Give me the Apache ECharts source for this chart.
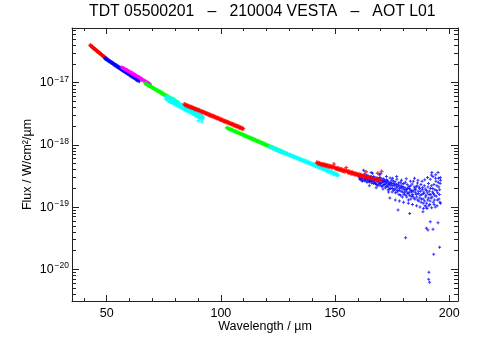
<!DOCTYPE html>
<html>
<head>
<meta charset="utf-8">
<script src="https://cdn.jsdelivr.net/npm/echarts@6/dist/echarts.min.js"></script>
<style>html,body{margin:0;padding:0;background:#fff}#c{width:481px;height:354px}</style>
</head>
<body>
<div id="c"></div>
<script>
// ---- chart text ----
const TITLE = 'TDT 05500201   \u2013   210004 VESTA   \u2013   AOT L01';
const X_NAME = 'Wavelength / \u00b5m';
const Y_NAME = 'Flux / W/cm\u00b2/\u00b5m';

// ---- axis ticks ----
const xMajorTicks = [50, 100, 150, 200];
const xMinorTicks = [40, 60, 70, 80, 90, 110, 120, 130, 140, 160, 170, 180, 190];
const yDecadeExponents = [-20, -19, -18, -17];
const yMinorMultipliers = [2, 3, 4, 5, 6, 7, 8, 9];
const X_MIN = 34.8, X_MAX = 203.85;
const Y_MIN_EXP = -20.51, Y_MAX_EXP = -16.12;

// ---- data: [wavelength (um), flux (W/cm2/um)] ----
const red1 = [[42.8,4.03e-17],[43.0,3.93e-17],[43.2,3.91e-17],[43.4,3.80e-17],[43.6,3.81e-17],[43.8,3.70e-17],[44.0,3.69e-17],[44.2,3.60e-17],[44.4,3.59e-17],[44.6,3.50e-17],[44.8,3.50e-17],[45.0,3.40e-17],[45.2,3.39e-17],[45.4,3.31e-17],[45.6,3.30e-17],[45.8,3.21e-17],[46.0,3.20e-17],[46.2,3.12e-17],[46.4,3.11e-17],[46.6,3.04e-17],[46.8,3.03e-17],[47.0,2.95e-17],[47.2,2.94e-17],[47.4,2.88e-17],[47.6,2.86e-17],[47.8,2.80e-17],[48.0,2.78e-17],[48.2,2.72e-17],[48.4,2.70e-17],[48.6,2.64e-17],[48.8,2.63e-17],[49.0,2.57e-17],[49.2,2.56e-17],[49.4,2.50e-17],[49.6,2.48e-17],[49.8,2.43e-17],[50.0,2.41e-17]];
const blue1 = [[49.3,2.48e-17],[49.5,2.40e-17],[49.7,2.45e-17],[50.0,2.39e-17],[50.2,2.31e-17],[50.5,2.34e-17],[50.7,2.26e-17],[51.0,2.27e-17],[51.2,2.19e-17],[51.5,2.22e-17],[51.7,2.13e-17],[52.0,2.15e-17],[52.2,2.07e-17],[52.5,2.09e-17],[52.7,2.01e-17],[53.0,2.03e-17],[53.2,1.95e-17],[53.5,1.98e-17],[53.7,1.89e-17],[54.0,1.93e-17],[54.2,1.84e-17],[54.5,1.87e-17],[54.7,1.79e-17],[55.0,1.82e-17],[55.2,1.74e-17],[55.5,1.77e-17],[55.7,1.69e-17],[56.0,1.72e-17],[56.2,1.64e-17],[56.5,1.68e-17],[56.7,1.60e-17],[57.0,1.63e-17],[57.2,1.55e-17],[57.5,1.59e-17],[57.7,1.51e-17],[58.0,1.54e-17],[58.2,1.47e-17],[58.5,1.50e-17],[58.7,1.43e-17],[59.0,1.46e-17],[59.2,1.39e-17],[59.5,1.42e-17],[59.7,1.35e-17],[60.0,1.38e-17],[60.2,1.31e-17],[60.5,1.35e-17],[60.7,1.28e-17],[61.0,1.31e-17],[61.2,1.24e-17],[61.5,1.27e-17],[61.7,1.21e-17],[62.0,1.24e-17],[62.2,1.18e-17],[62.5,1.21e-17],[62.7,1.14e-17],[63.0,1.17e-17],[63.2,1.11e-17],[63.5,1.14e-17],[63.7,1.08e-17],[64.0,1.11e-17],[64.3,1.06e-17]];
const magenta1 = [[56.6,1.78e-17],[56.9,1.72e-17],[57.2,1.72e-17],[57.5,1.67e-17],[57.8,1.68e-17],[58.1,1.62e-17],[58.4,1.63e-17],[58.7,1.58e-17],[59.0,1.59e-17],[59.3,1.53e-17],[59.6,1.54e-17],[59.9,1.48e-17],[60.2,1.50e-17],[60.5,1.44e-17],[60.8,1.46e-17],[61.1,1.40e-17],[61.4,1.42e-17],[61.7,1.36e-17],[62.0,1.37e-17],[62.3,1.32e-17],[62.6,1.33e-17],[62.9,1.28e-17],[63.2,1.29e-17],[63.5,1.24e-17],[63.8,1.25e-17],[64.1,1.20e-17],[64.4,1.22e-17],[64.7,1.17e-17],[65.0,1.18e-17],[65.3,1.13e-17],[65.6,1.14e-17],[65.9,1.10e-17],[66.2,1.10e-17],[66.5,1.06e-17],[66.8,1.07e-17],[67.1,1.03e-17],[67.4,1.04e-17],[67.7,1.00e-17],[68.0,1.00e-17],[68.3,9.70e-18],[68.6,9.75e-18],[68.9,9.45e-18]];
const green1 = [[66.8,9.85e-18],[67.1,9.55e-18],[67.4,9.60e-18],[67.7,9.25e-18],[68.0,9.30e-18],[68.3,8.95e-18],[68.6,9.05e-18],[68.9,8.70e-18],[69.2,8.80e-18],[69.5,8.45e-18],[69.8,8.55e-18],[70.1,8.20e-18],[70.4,8.30e-18],[70.7,7.95e-18],[71.0,8.05e-18],[71.3,7.70e-18],[71.6,7.85e-18],[71.9,7.45e-18],[72.2,7.60e-18],[72.5,7.25e-18],[72.8,7.40e-18],[73.1,7.05e-18],[73.4,7.20e-18],[73.7,6.85e-18],[74.0,7.00e-18],[74.3,6.60e-18],[74.6,6.75e-18],[74.9,6.40e-18],[75.2,6.55e-18],[75.5,6.20e-18],[75.8,6.35e-18],[76.1,6.05e-18],[76.4,6.15e-18],[76.7,5.85e-18],[77.0,6.00e-18],[77.3,5.70e-18],[77.6,5.80e-18],[77.9,5.50e-18],[78.2,5.65e-18],[78.5,5.35e-18],[78.8,5.50e-18],[79.1,5.20e-18],[79.4,5.30e-18],[79.7,5.05e-18],[80.0,5.15e-18],[80.3,4.90e-18],[80.6,5.00e-18],[80.9,4.75e-18],[81.2,4.85e-18]];
const cyan1 = [[75.8,6.0e-18],[76.0,5.4e-18],[76.1,5.65e-18],[76.3,5.9e-18],[76.5,5.3e-18],[76.8,5.85e-18],[77.0,5.1e-18],[77.1,5.4e-18],[77.3,5.7e-18],[77.5,5.0e-18],[77.8,5.5e-18],[78.0,4.85e-18],[78.1,5.15e-18],[78.3,5.45e-18],[78.5,4.8e-18],[78.8,5.3e-18],[79.0,4.65e-18],[79.1,4.95e-18],[79.3,5.2e-18],[79.5,4.6e-18],[79.6,5.5e-18],[79.8,5.05e-18],[80.0,4.45e-18],[80.1,4.7e-18],[80.3,4.95e-18],[80.5,4.4e-18],[80.8,4.8e-18],[81.0,4.25e-18],[81.1,4.5e-18],[81.3,4.75e-18],[81.5,4.2e-18],[81.8,4.6e-18],[82.0,4.05e-18],[82.1,4.3e-18],[82.3,4.5e-18],[82.5,4.0e-18],[82.8,4.4e-18],[83.0,3.9e-18],[83.1,4.1e-18],[83.3,4.3e-18],[83.5,3.8e-18],[83.8,4.2e-18],[84.0,3.7e-18],[84.1,3.9e-18],[84.3,4.1e-18],[84.5,3.65e-18],[84.8,4.0e-18],[85.0,3.55e-18],[85.1,3.75e-18],[85.3,3.95e-18],[85.5,3.5e-18],[85.8,3.85e-18],[86.0,3.4e-18],[86.1,3.6e-18],[86.3,3.75e-18],[86.5,3.35e-18],[86.8,3.65e-18],[87.0,3.25e-18],[87.1,3.45e-18],[87.3,3.6e-18],[87.5,3.2e-18],[87.8,3.5e-18],[88.0,3.1e-18],[88.1,3.3e-18],[88.3,3.45e-18],[88.5,3.05e-18],[88.8,3.35e-18],[89.0,2.95e-18],[89.1,3.15e-18],[89.3,3.25e-18],[89.5,2.9e-18],[89.8,3.2e-18],[90.0,2.85e-18],[90.1,3.0e-18],[90.2,2.45e-18],[90.3,3.1e-18],[90.5,2.75e-18],[90.8,3.05e-18],[91.0,2.7e-18],[91.1,2.85e-18],[91.3,2.95e-18],[91.5,2.65e-18],[91.6,2.35e-18],[91.8,2.9e-18],[92.0,2.6e-18],[92.1,2.72e-18],[92.3,2.8e-18]];
const red2 = [[84.0,4.55e-18],[84.3,4.35e-18],[84.6,4.45e-18],[84.9,4.25e-18],[85.2,4.36e-18],[85.5,4.18e-18],[85.8,4.28e-18],[86.1,4.08e-18],[86.4,4.20e-18],[86.7,4.00e-18],[87.0,4.10e-18],[87.3,3.92e-18],[87.6,4.03e-18],[87.9,3.85e-18],[88.2,3.94e-18],[88.5,3.76e-18],[88.8,3.86e-18],[89.1,3.68e-18],[89.4,3.78e-18],[89.7,3.60e-18],[90.0,3.70e-18],[90.3,3.53e-18],[90.6,3.63e-18],[90.9,3.46e-18],[91.2,3.55e-18],[91.5,3.39e-18],[91.8,3.48e-18],[92.1,3.32e-18],[92.4,3.41e-18],[92.7,3.25e-18],[93.0,3.34e-18],[93.3,3.18e-18],[93.6,3.27e-18],[93.9,3.11e-18],[94.2,3.20e-18],[94.5,3.04e-18],[94.8,3.13e-18],[95.1,2.98e-18],[95.4,3.06e-18],[95.7,2.92e-18],[96.0,3.00e-18],[96.3,2.86e-18],[96.6,2.94e-18],[96.9,2.80e-18],[97.2,2.88e-18],[97.5,2.74e-18],[97.8,2.82e-18],[98.1,2.68e-18],[98.4,2.76e-18],[98.7,2.63e-18],[99.0,2.70e-18],[99.3,2.57e-18],[99.6,2.65e-18],[99.9,2.52e-18],[100.2,2.59e-18],[100.5,2.47e-18],[100.8,2.53e-18],[101.1,2.41e-18],[101.4,2.48e-18],[101.7,2.36e-18],[102.0,2.43e-18],[102.3,2.31e-18],[102.6,2.38e-18],[102.9,2.27e-18],[103.2,2.33e-18],[103.5,2.22e-18],[103.8,2.28e-18],[104.1,2.17e-18],[104.4,2.23e-18],[104.7,2.13e-18],[105.0,2.18e-18],[105.3,2.08e-18],[105.6,2.14e-18],[105.9,2.04e-18],[106.2,2.10e-18],[106.5,2.00e-18],[106.8,2.05e-18],[107.1,1.95e-18],[107.4,2.01e-18],[107.7,1.91e-18],[108.0,1.97e-18],[108.3,1.87e-18],[108.6,1.93e-18],[108.9,1.83e-18],[109.2,1.88e-18],[109.5,1.79e-18],[109.8,1.84e-18]];
const green2 = [[102.6,1.90e-18],[102.9,1.85e-18],[103.2,1.86e-18],[103.5,1.80e-18],[103.8,1.82e-18],[104.1,1.77e-18],[104.4,1.79e-18],[104.7,1.73e-18],[105.0,1.75e-18],[105.3,1.69e-18],[105.6,1.71e-18],[105.9,1.65e-18],[106.2,1.67e-18],[106.5,1.62e-18],[106.8,1.64e-18],[107.1,1.58e-18],[107.4,1.60e-18],[107.7,1.55e-18],[108.0,1.57e-18],[108.3,1.51e-18],[108.6,1.53e-18],[108.9,1.48e-18],[109.2,1.50e-18],[109.5,1.45e-18],[109.8,1.47e-18],[110.1,1.42e-18],[110.4,1.44e-18],[110.7,1.38e-18],[111.0,1.40e-18],[111.3,1.35e-18],[111.6,1.37e-18],[111.9,1.32e-18],[112.2,1.34e-18],[112.5,1.29e-18],[112.8,1.31e-18],[113.1,1.26e-18],[113.4,1.29e-18],[113.7,1.23e-18],[114.0,1.26e-18],[114.3,1.21e-18],[114.6,1.23e-18],[114.9,1.18e-18],[115.2,1.21e-18],[115.5,1.16e-18],[115.8,1.18e-18],[116.1,1.13e-18],[116.4,1.15e-18],[116.7,1.11e-18],[117.0,1.13e-18],[117.3,1.08e-18],[117.6,1.10e-18],[117.9,1.06e-18],[118.2,1.08e-18],[118.5,1.03e-18],[118.8,1.06e-18],[119.1,1.01e-18],[119.4,1.04e-18],[119.7,9.90e-19],[120.0,1.01e-18],[120.3,9.65e-19],[120.6,9.85e-19],[120.9,9.45e-19],[121.2,9.65e-19],[121.5,9.25e-19],[121.8,9.45e-19],[122.1,9.05e-19],[122.4,9.25e-19],[122.7,8.85e-19],[123.0,9.05e-19],[123.3,8.65e-19],[123.6,8.85e-19],[123.9,8.45e-19],[124.2,8.65e-19],[124.5,8.25e-19],[124.8,8.45e-19],[125.1,8.05e-19],[125.4,8.30e-19],[125.7,7.90e-19],[126.0,8.10e-19],[126.3,7.70e-19],[126.6,7.90e-19],[126.9,7.55e-19],[127.2,7.75e-19],[127.8,7.45e-19],[128.4,7.30e-19],[129.0,7.15e-19]];
const cyan2 = [[121.4,9.45e-19],[121.7,9.10e-19],[122.0,9.25e-19],[122.3,8.90e-19],[122.6,9.05e-19],[122.9,8.70e-19],[123.2,8.90e-19],[123.5,8.50e-19],[123.8,8.70e-19],[124.1,8.35e-19],[124.4,8.55e-19],[124.7,8.15e-19],[125.0,8.35e-19],[125.3,8.00e-19],[125.6,8.20e-19],[125.9,7.80e-19],[126.2,8.00e-19],[126.5,7.65e-19],[126.8,7.85e-19],[127.1,7.50e-19],[127.4,7.70e-19],[127.7,7.35e-19],[128.0,7.55e-19],[128.3,7.20e-19],[128.6,7.40e-19],[128.9,7.05e-19],[129.2,7.25e-19],[129.5,6.90e-19],[129.8,7.10e-19],[130.1,6.75e-19],[130.4,6.95e-19],[130.7,6.60e-19],[131.0,6.80e-19],[131.3,6.50e-19],[131.6,6.65e-19],[131.9,6.35e-19],[132.2,6.50e-19],[132.5,6.20e-19],[132.8,6.40e-19],[133.1,6.10e-19],[133.4,6.25e-19],[133.7,5.95e-19],[134.0,6.10e-19],[134.3,5.85e-19],[134.6,6.00e-19],[134.9,5.70e-19],[135.2,5.85e-19],[135.5,5.60e-19],[135.8,5.75e-19],[136.1,5.45e-19],[136.4,5.65e-19],[136.7,5.35e-19],[137.0,5.55e-19],[137.3,5.25e-19],[137.6,5.45e-19],[137.9,5.15e-19],[138.2,5.35e-19],[138.5,5.05e-19],[138.8,5.20e-19],[139.1,4.95e-19],[139.4,5.10e-19],[139.7,4.85e-19],[140.0,5.00e-19],[140.3,4.75e-19],[140.6,4.90e-19],[140.9,4.65e-19],[141.2,4.80e-19],[141.5,4.55e-19],[141.8,4.70e-19],[142.1,4.45e-19],[142.4,4.60e-19],[142.7,4.35e-19],[143.0,4.50e-19],[143.3,4.28e-19],[143.6,4.40e-19],[143.9,4.18e-19],[144.2,4.30e-19],[144.5,4.08e-19],[144.8,4.22e-19],[145.1,3.98e-19],[145.4,4.12e-19],[145.7,3.90e-19],[146.0,4.03e-19],[146.3,3.82e-19],[146.6,3.95e-19],[146.9,3.73e-19],[147.2,3.87e-19],[147.5,3.65e-19],[147.8,3.79e-19],[148.1,3.58e-19],[148.4,3.71e-19],[148.7,3.50e-19],[149.0,3.63e-19],[149.3,3.42e-19],[149.6,3.55e-19],[149.9,3.35e-19],[150.2,3.48e-19],[150.5,3.28e-19],[150.8,3.40e-19],[151.1,3.22e-19],[151.4,3.30e-19]];
const blue2 = [[160.6,3.1e-19],[160.9,2.8e-19],[161.2,3.3e-19],[161.5,2.9e-19],[161.8,3.0e-19],[162.1,2.7e-19],[162.4,3.2e-19],[162.5,3.9e-19],[162.7,2.85e-19],[163.0,3.4e-19],[163.3,2.75e-19],[163.6,3.0e-19],[163.9,2.6e-19],[164.2,2.9e-19],[164.5,3.15e-19],[164.8,2.7e-19],[165.1,2.55e-19],[165.4,3.0e-19],[165.7,2.8e-19],[165.8,3.6e-19],[166.0,2.45e-19],[166.3,2.95e-19],[166.6,2.65e-19],[166.9,3.1e-19],[167.2,2.5e-19],[167.5,2.75e-19],[167.8,2.35e-19],[168.1,2.9e-19],[168.4,2.6e-19],[168.7,2.2e-19],[169.0,2.8e-19],[169.3,2.5e-19],[169.6,3.0e-19],[169.9,2.4e-19],[170.0,3.45e-19],[170.2,2.65e-19],[170.5,2.15e-19],[170.8,2.55e-19],[171.1,2.85e-19],[171.4,2.3e-19],[171.7,2.6e-19],[172.0,2.05e-19],[172.3,2.45e-19],[172.6,2.75e-19],[172.9,2.2e-19],[173.2,1.9e-19],[173.5,2.5e-19],[173.8,2.3e-19],[174.1,2.95e-19],[174.4,2.0e-19],[174.7,2.4e-19],[175.0,1.75e-19],[175.3,2.2e-19],[175.6,2.6e-19],[175.9,1.95e-19],[176.2,2.35e-19],[176.5,1.7e-19],[176.8,2.1e-19],[177.1,2.8e-19],[177.4,1.85e-19],[177.6,8.97e-20],[177.7,2.25e-19],[178.0,1.6e-19],[178.3,2.0e-19],[178.6,2.5e-19],[178.9,1.8e-19],[179.2,2.15e-19],[179.5,1.45e-19],[179.8,1.95e-19],[180.1,2.4e-19],[180.4,1.7e-19],[180.7,2.05e-19],[180.9,3.22e-20],[181.0,1.55e-19],[181.3,1.9e-19],[181.6,2.3e-19],[181.9,1.65e-19],[182.2,1.3e-19],[182.5,2.0e-19],[182.7,7.9e-20],[182.8,1.75e-19],[183.1,2.2e-19],[183.4,1.5e-19],[183.7,1.85e-19],[184.0,1.6e-19],[184.3,2.6e-19],[184.6,1.4e-19],[184.9,1.95e-19],[185.2,1.7e-19],[185.5,2.1e-19],[185.8,1.45e-19],[186.1,2.45e-19],[186.4,1.8e-19],[186.7,1.25e-19],[187.0,2.0e-19],[187.3,1.55e-19],[187.6,2.3e-19],[187.9,1.35e-19],[188.2,1.9e-19],[188.5,8.43e-20],[188.6,1.15e-19],[188.8,1.65e-19],[189.1,2.2e-19],[189.4,1.05e-19],[189.7,1.45e-19],[190.0,4.56e-20],[190.1,1.85e-19],[190.3,9.5e-20],[190.6,1.3e-19],[190.7,4.28e-20],[190.9,2.4e-19],[191.0,6.91e-21],[191.1,8.95e-21],[191.2,1.6e-19],[191.4,6.18e-21],[191.5,1.1e-19],[191.7,5.82e-20],[191.8,2.0e-19],[192.1,1.4e-19],[192.2,3.28e-19],[192.4,3.6e-19],[192.7,1.75e-19],[192.9,4.40e-20],[193.0,1.2e-19],[193.2,1.74e-20],[193.3,2.3e-19],[193.6,1.55e-19],[193.9,1.0e-19],[194.2,2.6e-19],[194.5,1.85e-19],[194.8,1.3e-19],[195.1,3.6e-19],[195.1,5.61e-20],[195.4,2.1e-19],[195.7,1.6e-19],[195.8,2.26e-20],[196.0,2.4e-19],[196.2,1.15e-19]];
const blue2b = [[160.7,2.95e-19],[161.0,3.2e-19],[161.3,2.75e-19],[161.6,3.15e-19],[161.9,2.6e-19],[162.2,2.95e-19],[162.6,3.1e-19],[162.9,2.65e-19],[163.2,3.05e-19],[163.5,2.85e-19],[163.8,3.25e-19],[164.0,2.5e-19],[164.3,2.8e-19],[164.6,3.05e-19],[164.9,2.55e-19],[165.2,2.85e-19],[165.5,2.65e-19],[165.9,3.1e-19],[166.2,2.6e-19],[166.5,2.85e-19],[166.8,2.4e-19],[167.0,2.95e-19],[167.3,2.7e-19],[167.6,2.45e-19],[167.9,2.8e-19],[168.2,2.3e-19],[168.5,2.95e-19],[168.8,2.6e-19],[169.1,2.35e-19],[169.4,2.7e-19],[169.7,2.25e-19],[170.0,2.9e-19],[170.3,2.45e-19],[170.6,2.7e-19],[170.9,2.2e-19],[171.2,2.55e-19],[171.5,2.75e-19],[171.8,2.3e-19],[172.1,2.6e-19],[172.4,2.15e-19],[172.7,2.45e-19],[173.0,2.65e-19],[173.3,2.1e-19],[173.6,2.35e-19],[173.9,1.95e-19],[174.2,2.5e-19],[174.5,2.2e-19],[174.8,2.7e-19],[175.1,2.0e-19],[175.4,2.4e-19],[175.7,1.85e-19],[176.0,2.25e-19],[176.3,2.55e-19],[176.6,1.95e-19],[176.9,2.3e-19],[177.2,1.75e-19],[177.5,2.1e-19],[177.8,2.45e-19],[178.1,1.85e-19],[178.4,2.2e-19],[178.7,1.55e-19],[179.0,2.05e-19],[179.3,2.35e-19],[179.6,1.75e-19],[179.9,2.1e-19],[180.2,1.6e-19],[180.5,1.9e-19],[180.8,2.5e-19],[181.1,1.8e-19],[181.4,1.45e-19],[181.7,2.0e-19],[182.0,1.7e-19],[182.3,2.15e-19],[182.6,1.55e-19],[182.9,1.9e-19],[183.2,1.35e-19],[183.5,1.75e-19],[183.8,2.35e-19],[184.1,1.5e-19],[184.4,1.8e-19],[184.7,2.1e-19],[185.0,1.35e-19],[185.3,1.9e-19],[185.6,1.6e-19],[185.9,2.2e-19],[186.2,1.3e-19],[186.5,1.65e-19],[186.8,2.1e-19],[187.1,1.4e-19],[187.4,1.8e-19],[187.7,1.2e-19],[188.0,1.6e-19],[188.3,2.05e-19],[188.6,1.35e-19],[188.9,1.75e-19],[189.2,1.25e-19],[189.5,1.95e-19],[189.8,1.55e-19],[190.1,1.15e-19],[190.4,1.7e-19],[190.7,2.1e-19],[191.0,1.4e-19],[191.3,1.8e-19],[191.6,1.25e-19],[191.9,1.6e-19],[192.2,2.2e-19],[192.5,1.45e-19],[192.8,2.0e-19],[193.1,1.65e-19],[193.4,1.1e-19],[193.7,1.9e-19],[194.0,2.9e-19],[194.3,1.5e-19],[194.6,2.2e-19],[194.9,1.7e-19],[195.2,2.5e-19],[195.5,1.35e-19],[195.8,1.9e-19],[196.1,3.0e-19]];
const blue2c = [[165.0,2.2e-19],[166.4,3.5e-19],[168.0,2.05e-19],[169.5,3.3e-19],[171.0,1.95e-19],[172.5,3.1e-19],[173.4,1.75e-19],[174.0,1.4e-19],[175.2,2.9e-19],[176.4,1.3e-19],[177.0,3.1e-19],[178.2,1.25e-19],[179.1,2.7e-19],[180.0,1.2e-19],[181.2,2.85e-19],[182.1,1.15e-19],[183.0,2.6e-19],[183.9,1.1e-19],[184.8,2.9e-19],[185.7,1.05e-19],[186.3,2.7e-19],[187.2,1.0e-19],[188.1,2.6e-19],[188.7,9.5e-20],[189.3,2.75e-19],[189.9,1.0e-19],[190.5,3.0e-19],[191.1,1.05e-19],[191.7,2.8e-19],[192.3,9.8e-20],[192.9,3.1e-19],[193.5,1.3e-19],[194.1,3.3e-19],[194.7,1.05e-19],[195.3,2.9e-19],[195.9,1.2e-19],[196.2,2.7e-19]];
const red3 = [[142.0,5.25e-19],[142.3,5.05e-19],[142.6,5.15e-19],[142.9,4.95e-19],[143.2,5.10e-19],[143.5,4.85e-19],[143.8,5.00e-19],[144.1,4.80e-19],[144.4,4.95e-19],[144.7,4.72e-19],[145.0,4.88e-19],[145.3,4.65e-19],[145.6,4.85e-19],[145.9,4.58e-19],[146.2,4.75e-19],[146.5,4.55e-19],[146.8,4.70e-19],[147.1,4.45e-19],[147.4,4.65e-19],[147.7,4.40e-19],[148.0,4.58e-19],[148.3,4.35e-19],[148.6,4.50e-19],[148.9,4.30e-19],[149.2,4.45e-19],[149.5,4.92e-19],[149.8,4.35e-19],[150.1,4.15e-19],[150.4,4.30e-19],[150.7,4.10e-19],[151.0,4.25e-19],[151.3,4.02e-19],[151.6,4.20e-19],[151.9,3.95e-19],[152.2,4.12e-19],[152.5,3.90e-19],[152.8,4.08e-19],[153.1,3.82e-19],[153.4,4.00e-19],[153.7,3.78e-19],[154.0,3.95e-19],[154.3,3.70e-19],[154.6,3.88e-19],[154.9,4.30e-19],[155.2,3.82e-19],[155.5,3.62e-19],[155.8,3.78e-19],[156.1,3.55e-19],[156.4,3.72e-19],[156.7,3.50e-19],[157.0,3.68e-19],[157.3,3.45e-19],[157.6,3.62e-19],[157.9,3.40e-19],[158.2,3.55e-19],[158.5,3.35e-19],[158.8,3.50e-19],[159.1,3.30e-19],[159.4,3.45e-19],[159.7,3.25e-19],[160.0,3.40e-19],[160.3,3.20e-19],[160.6,3.36e-19],[160.9,3.15e-19],[161.2,3.30e-19],[161.5,3.12e-19],[161.8,3.26e-19],[162.1,3.08e-19],[162.4,3.20e-19],[162.7,3.00e-19],[163.0,3.16e-19],[163.5,3.70e-19],[163.8,2.98e-19],[164.2,3.10e-19],[164.8,2.92e-19],[165.4,3.05e-19],[166.0,2.85e-19],[166.6,2.95e-19],[167.2,2.78e-19],[167.8,2.90e-19],[168.4,2.70e-19],[168.7,3.50e-19],[169.0,2.80e-19],[169.6,2.62e-19],[170.2,2.75e-19],[170.4,3.75e-19]];

const seriesList = [
  {name: 'red1', data: red1, color: '#ff0000', size: 4},
  {name: 'blue1', data: blue1, color: '#0000ff', size: 4},
  {name: 'magenta1', data: magenta1, color: '#ff00ff', size: 4},
  {name: 'green1', data: green1, color: '#00ff00', size: 4},
  {name: 'cyan1', data: cyan1, color: '#00ffff', size: 4},
  {name: 'red2', data: red2, color: '#ff0000', size: 4},
  {name: 'green2', data: green2, color: '#00ff00', size: 4},
  {name: 'cyan2', data: cyan2, color: '#00ffff', size: 4},
  {name: 'blue2', data: blue2, color: '#0000ff', size: 3},
  {name: 'blue2b', data: blue2b, color: '#0000ff', size: 3},
  {name: 'blue2c', data: blue2c, color: '#0000ff', size: 3},
  {name: 'red3', data: red3, color: '#ff0000', size: 4}
];

// ---- build ----
const FONT = '"Liberation Sans", Arial, Helvetica, sans-serif';
const LINE = {color: '#222', width: 1};
const yMinorTicks = [];
[-21, -20, -19, -18, -17].forEach(function (e) {
  yMinorMultipliers.forEach(function (k) {
    const v = e + Math.log10(k);
    if (v > Y_MIN_EXP && v < Y_MAX_EXP) yMinorTicks.push(v);
  });
});

function xAx(pos, ticks, len, showLine, labels) {
  return {
    type: 'value', min: X_MIN, max: X_MAX, position: pos, gridIndex: 0,
    name: labels ? X_NAME : '', nameLocation: 'middle', nameGap: 19, nameMoveOverlap: false,
    nameTextStyle: {fontFamily: FONT, fontSize: 12.5, color: '#000'},
    axisLine: {show: showLine, onZero: false, lineStyle: LINE},
    axisTick: {show: true, inside: true, length: len, customValues: ticks, lineStyle: LINE},
    axisLabel: labels ? {show: true, customValues: xMajorTicks, margin: 6, fontFamily: FONT, fontSize: 12.5, color: '#000'} : {show: false},
    splitLine: {show: false}
  };
}
function yAx(pos, ticks, len, showLine, labels) {
  return {
    type: 'value', min: Y_MIN_EXP, max: Y_MAX_EXP, position: pos, gridIndex: 0,
    name: labels ? Y_NAME : '', nameLocation: 'middle', nameGap: 38, nameRotate: 90, nameMoveOverlap: false,
    nameTextStyle: {fontFamily: FONT, fontSize: 12.5, color: '#000'},
    axisLine: {show: showLine, onZero: false, lineStyle: LINE},
    axisTick: {show: true, inside: true, length: len, customValues: ticks, lineStyle: LINE},
    axisLabel: labels ? {
      show: true, customValues: yDecadeExponents, margin: 3,
      formatter: function (v) { return '{b|10}{s|\u2212' + Math.round(-v) + '}'; },
      rich: {
        b: {fontFamily: FONT, fontSize: 12.5, color: '#000', lineHeight: 16},
        s: {fontFamily: FONT, fontSize: 8.5, color: '#000', lineHeight: 8, verticalAlign: 'top', padding: [0, 0, 0, 1]}
      }
    } : {show: false},
    splitLine: {show: false}
  };
}

const PLUS = 'path://M1,0H2V1H3V2H2V3H1V2H0V1H1Z';
const chart = echarts.init(document.getElementById('c'), null, {renderer: 'canvas'});
chart.setOption({
  animation: false,
  backgroundColor: '#fff',
  title: {
    text: TITLE, left: 89, top: 4, textAlign: 'left', padding: 0,
    textStyle: {fontFamily: FONT, fontSize: 15.8, fontWeight: 'normal', color: '#000'}
  },
  grid: {left: 72, right: 23, top: 28, bottom: 53, containLabel: false},
  xAxis: [
    xAx('bottom', xMajorTicks, 6, true, true),
    xAx('bottom', xMinorTicks, 3, false, false),
    xAx('top', xMajorTicks, 6, true, false),
    xAx('top', xMinorTicks, 3, false, false)
  ],
  yAxis: [
    yAx('left', yDecadeExponents, 7, true, true),
    yAx('left', yMinorTicks, 4, false, false),
    yAx('right', yDecadeExponents, 7, true, false),
    yAx('right', yMinorTicks, 4, false, false)
  ],
  series: seriesList.map(function (s) {
    return {
      type: 'scatter', name: s.name, xAxisIndex: 0, yAxisIndex: 0,
      symbol: PLUS, symbolSize: s.size,
      itemStyle: {color: s.color},
      emphasis: {disabled: true}, silent: true,
      data: s.data.map(function (p) { return [p[0], Math.log10(p[1])]; })
    };
  })
});
</script>
</body>
</html>
